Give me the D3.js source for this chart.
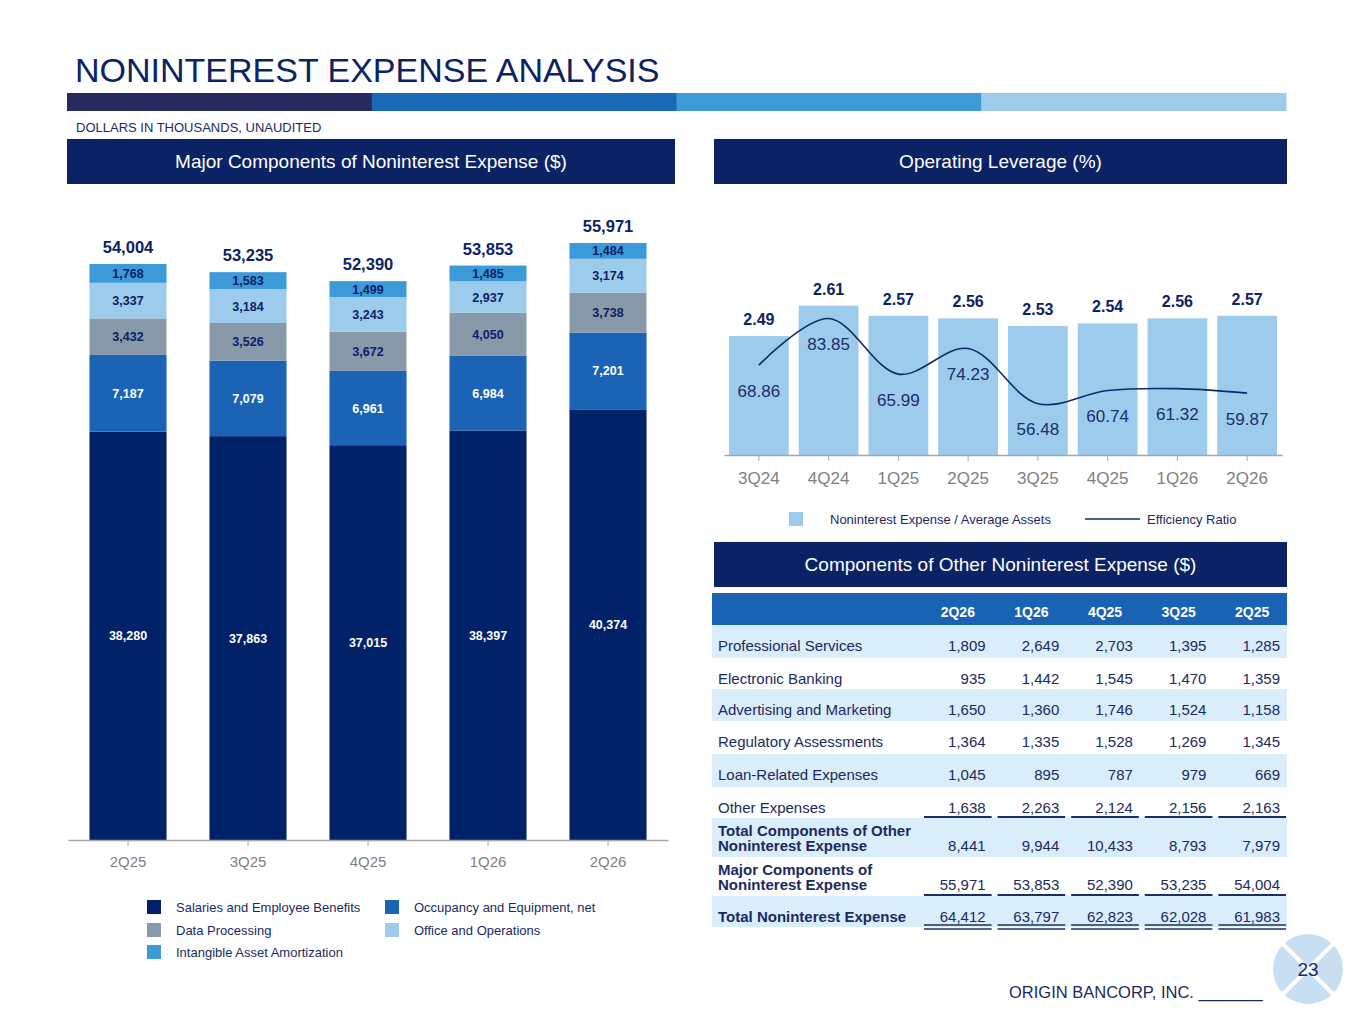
<!DOCTYPE html>
<html>
<head>
<meta charset="utf-8">
<script src="https://cdn.jsdelivr.net/npm/d3@7"></script>
<style>
    body { margin: 0; background: #fff; }
    svg { display: block; font-family: "Liberation Sans", Arial, Helvetica, sans-serif; }
</style>
</head>
<body>
<svg id="slide" width="1365" height="1024"></svg>
<script>
// ---- Major components (left stacked bars) ----
const quartersMajor = ["2Q25", "3Q25", "4Q25", "1Q26", "2Q26"];
const salaries     = [38280, 37863, 37015, 38397, 40374];
const occupancy    = [7187, 7079, 6961, 6984, 7201];
const dataProc     = [3432, 3526, 3672, 4050, 3738];
const officeOps    = [3337, 3184, 3243, 2937, 3174];
const amortization = [1768, 1583, 1499, 1485, 1484];
const majorNames = ["Salaries and Employee Benefits", "Occupancy and Equipment, net",
                    "Data Processing", "Office and Operations", "Intangible Asset Amortization"];

// ---- Operating leverage (right combo chart) ----
const quartersLev = ["3Q24", "4Q24", "1Q25", "2Q25", "3Q25", "4Q25", "1Q26", "2Q26"];
const expToAssets = [2.49, 2.61, 2.57, 2.56, 2.53, 2.54, 2.56, 2.57];
const efficiency  = [68.86, 83.85, 65.99, 74.23, 56.48, 60.74, 61.32, 59.87];

// ---- Other noninterest expense table ----
const tableCols    = ["2Q26", "1Q26", "4Q25", "3Q25", "2Q25"];
const professional = [1809, 2649, 2703, 1395, 1285];
const electronic   = [935, 1442, 1545, 1470, 1359];
const advertising  = [1650, 1360, 1746, 1524, 1158];
const regulatory   = [1364, 1335, 1528, 1269, 1345];
const loanRelated  = [1045, 895, 787, 979, 669];
const otherExp     = [1638, 2263, 2124, 2156, 2163];
const totalOther   = [8441, 9944, 10433, 8793, 7979];
const majorComp    = [55971, 53853, 52390, 53235, 54004];
const totalNonint  = [64412, 63797, 62823, 62028, 61983];

const NAVY = "#0b2265";
const TEXT = "#1b2a5e";
const GREY = "#7f7f7f";
const fmt = d3.format(",");

const svg = d3.select("#slide");

// ---------- slide header ----------
svg.append("text")
    .attr("x", 75).attr("y", 82)
    .attr("font-size", 34).attr("fill", NAVY)
    .text("NONINTEREST EXPENSE ANALYSIS");

const stripe = ["#262a5e", "#1a69b4", "#3f9bd8", "#9ccbeb"];
const stripeX = d3.scaleBand().domain(d3.range(4)).range([67, 1286]);
svg.selectAll(".stripe").data(stripe).join("rect")
    .attr("class", "stripe")
    .attr("x", (d, i) => stripeX(i)).attr("y", 93)
    .attr("width", stripeX.bandwidth() + 0.5).attr("height", 18)
    .attr("fill", d => d);

svg.append("text")
    .attr("x", 76).attr("y", 132)
    .attr("font-size", 13).attr("fill", TEXT)
    .text("DOLLARS IN THOUSANDS, UNAUDITED");

function sectionHeader(x, y, w, label) {
    svg.append("rect").attr("x", x).attr("y", y).attr("width", w).attr("height", 45).attr("fill", NAVY);
    svg.append("text")
        .attr("x", x + w / 2).attr("y", y + 29)
        .attr("text-anchor", "middle").attr("font-size", 19).attr("fill", "#fff")
        .text(label);
}
sectionHeader(67, 139, 608, "Major Components of Noninterest Expense ($)");
sectionHeader(714, 139, 573, "Operating Leverage (%)");
sectionHeader(714, 542, 573, "Components of Other Noninterest Expense ($)");

// ---------- left: stacked bars ----------
const majorColors = ["#012169", "#1a63b5", "#8899a9", "#9ccbec", "#3d9ad9"];
const majorLabelColors = ["#fff", "#fff", NAVY, NAVY, NAVY];
const keys = ["salaries", "occupancy", "dataProc", "officeOps", "amortization"];
const majorRows = quartersMajor.map((q, i) => ({
    q,
    salaries: salaries[i],
    occupancy: occupancy[i],
    dataProc: dataProc[i],
    officeOps: officeOps[i],
    amortization: amortization[i]
}));

const xL = d3.scaleBand().domain(quartersMajor).range([68, 668]).paddingInner(0.358).paddingOuter(0.179);
const yL = d3.scaleLinear().domain([0, 60000]).range([840, 200]);
const stacked = d3.stack().keys(keys)(majorRows);

const left = svg.append("g");
const layers = left.selectAll(".layer").data(stacked).join("g")
    .attr("class", "layer")
    .attr("fill", (d, i) => majorColors[i]);

layers.selectAll("rect").data(d => d).join("rect")
    .attr("x", d => xL(d.data.q))
    .attr("y", d => yL(d[1]))
    .attr("width", xL.bandwidth())
    .attr("height", d => yL(d[0]) - yL(d[1]));

layers.selectAll("text").data((d, i) => d.map(s => ({ s, i }))).join("text")
    .attr("x", d => xL(d.s.data.q) + xL.bandwidth() / 2)
    .attr("y", d => (yL(d.s[0]) + yL(d.s[1])) / 2)
    .attr("dy", "0.36em")
    .attr("text-anchor", "middle")
    .attr("font-size", 12.5).attr("font-weight", "bold")
    .attr("fill", d => majorLabelColors[d.i])
    .text(d => fmt(d.s[1] - d.s[0]));

left.selectAll(".total").data(majorRows).join("text")
    .attr("class", "total")
    .attr("x", d => xL(d.q) + xL.bandwidth() / 2)
    .attr("y", d => yL(d3.sum(keys, k => d[k])) - 11)
    .attr("text-anchor", "middle")
    .attr("font-size", 16.5).attr("font-weight", "bold").attr("fill", NAVY)
    .text(d => fmt(d3.sum(keys, k => d[k])));

const axL = left.append("g")
    .attr("transform", "translate(0,840)")
    .call(d3.axisBottom(xL).tickSize(6).tickSizeOuter(0).tickPadding(10));
axL.select(".domain").attr("stroke", "#a6a6a6").attr("stroke-width", 1.5);
axL.selectAll(".tick line").attr("stroke", "#a6a6a6");
axL.selectAll(".tick text").attr("font-size", 15).attr("fill", GREY)
    .attr("font-family", "'Liberation Sans', Arial, sans-serif");

// legend (left)
const legL = left.append("g");
const legPos = [[147, 907], [385, 907], [147, 930], [385, 930], [147, 952]];
majorNames.forEach((name, i) => {
    legL.append("rect")
        .attr("x", legPos[i][0]).attr("y", legPos[i][1] - 7)
        .attr("width", 14).attr("height", 14)
        .attr("fill", majorColors[i]);
    legL.append("text")
        .attr("x", legPos[i][0] + 29).attr("y", legPos[i][1] + 4.5)
        .attr("font-size", 13).attr("fill", TEXT)
        .text(name);
});

// ---------- right: operating leverage ----------
const right = svg.append("g");
const xR = d3.scaleBand().domain(quartersLev).range([724, 1282]).paddingInner(0.143).paddingOuter(0.0715);
const yR = d3.scaleLinear().domain([2.02, 3.0]).range([455, 207]);
const yR2 = d3.scaleLinear().domain([40, 120]).range([455, 206]);
const levRows = quartersLev.map((q, i) => ({ q, a: expToAssets[i], e: efficiency[i] }));

right.selectAll(".lbar").data(levRows).join("rect")
    .attr("class", "lbar")
    .attr("x", d => xR(d.q)).attr("y", d => yR(d.a))
    .attr("width", xR.bandwidth()).attr("height", d => yR(yR.domain()[0]) - yR(d.a))
    .attr("fill", "#9ccbec");

right.selectAll(".alab").data(levRows).join("text")
    .attr("class", "alab")
    .attr("x", d => xR(d.q) + xR.bandwidth() / 2).attr("y", d => yR(d.a) - 11)
    .attr("text-anchor", "middle")
    .attr("font-size", 16).attr("font-weight", "bold").attr("fill", NAVY)
    .text(d => d.a.toFixed(2));

const effLine = d3.line()
    .x(d => xR(d.q) + xR.bandwidth() / 2)
    .y(d => yR2(d.e))
    .curve(d3.curveCatmullRom.alpha(0.5));
right.append("path").datum(levRows)
    .attr("d", effLine)
    .attr("fill", "none").attr("stroke", "#0f2a66").attr("stroke-width", 1.6);

right.selectAll(".elab").data(levRows).join("text")
    .attr("class", "elab")
    .attr("x", d => xR(d.q) + xR.bandwidth() / 2).attr("y", d => yR2(d.e) + 25.5)
    .attr("dy", "0.36em")
    .attr("text-anchor", "middle")
    .attr("font-size", 17).attr("fill", "#1a2f6b")
    .text(d => d.e.toFixed(2));

const axR = right.append("g")
    .attr("transform", "translate(0,455)")
    .call(d3.axisBottom(xR).tickSize(6).tickSizeOuter(0).tickPadding(11));
axR.select(".domain").attr("stroke", "#a6a6a6").attr("stroke-width", 1.5);
axR.selectAll(".tick line").attr("stroke", "#a6a6a6");
axR.selectAll(".tick text").attr("font-size", 17).attr("fill", GREY)
    .attr("font-family", "'Liberation Sans', Arial, sans-serif");

// legend (right)
right.append("rect").attr("x", 789).attr("y", 512).attr("width", 14).attr("height", 14).attr("fill", "#9ccbec");
right.append("text").attr("x", 830).attr("y", 523.5).attr("font-size", 13).attr("fill", TEXT)
    .text("Noninterest Expense / Average Assets");
right.append("line").attr("x1", 1085).attr("x2", 1140).attr("y1", 519).attr("y2", 519)
    .attr("stroke", "#0f2a66").attr("stroke-width", 1.6);
right.append("text").attr("x", 1147).attr("y", 523.5).attr("font-size", 13).attr("fill", TEXT)
    .text("Efficiency Ratio");

// ---------- table ----------
const tbl = svg.append("g");
const xT = d3.scaleBand().domain(tableCols).range([921, 1289]).paddingInner(0.08).paddingOuter(0.04);
const BAND = "#d9edfb";

tbl.append("rect").attr("x", 712).attr("y", 593).attr("width", 575).attr("height", 32).attr("fill", "#1a62b3");
tbl.selectAll(".colh").data(tableCols).join("text")
    .attr("class", "colh")
    .attr("x", d => xT(d) + xT.bandwidth() / 2).attr("y", 617)
    .attr("text-anchor", "middle")
    .attr("font-size", 14).attr("font-weight", "bold").attr("fill", "#fff")
    .text(d => d);

const tableRows = [
    { lines: ["Professional Services"], vals: professional, top: 625, h: 33, band: true },
    { lines: ["Electronic Banking"], vals: electronic, top: 658, h: 31 },
    { lines: ["Advertising and Marketing"], vals: advertising, top: 689, h: 32, band: true },
    { lines: ["Regulatory Assessments"], vals: regulatory, top: 721, h: 33 },
    { lines: ["Loan-Related Expenses"], vals: loanRelated, top: 754, h: 33, band: true },
    { lines: ["Other Expenses"], vals: otherExp, top: 787, h: 31, under: 1 },
    { lines: ["Total Components of Other", "Noninterest Expense"], vals: totalOther, top: 818, h: 39, band: true, bold: true },
    { lines: ["Major Components of", "Noninterest Expense"], vals: majorComp, top: 857, h: 39, bold: true, under: 1 },
    { lines: ["Total Noninterest Expense"], vals: totalNonint, top: 896, h: 31, band: true, bold: true, under: 2 }
];

tableRows.forEach(r => {
    if (r.band) {
        tbl.append("rect").attr("x", 712).attr("y", r.top).attr("width", 575).attr("height", r.h).attr("fill", BAND);
    }
    const baseline = r.lines.length === 2 ? r.top + 33 : r.top + 26;
    r.lines.forEach((ln, k) => {
        tbl.append("text")
            .attr("x", 718).attr("y", r.lines.length === 2 ? r.top + 18 + 15 * k : baseline)
            .attr("font-size", 15).attr("font-weight", r.bold ? "bold" : "normal").attr("fill", TEXT)
            .text(ln);
    });
    tbl.selectAll(null).data(r.vals).join("text")
        .attr("x", (d, i) => xT(tableCols[i]) + xT.bandwidth() - 6)
        .attr("y", baseline)
        .attr("text-anchor", "end")
        .attr("font-size", 15).attr("fill", TEXT)
        .text(d => fmt(d));
    if (r.under) {
        const yy = r.top + r.h - 1;
        const offs = r.under === 2 ? [-1, 3] : [0];
        offs.forEach(o => {
            tbl.selectAll(null).data(tableCols).join("line")
                .attr("x1", d => xT(d)).attr("x2", d => xT(d) + xT.bandwidth())
                .attr("y1", yy + o).attr("y2", yy + o)
                .attr("stroke", "#1b2f66").attr("stroke-width", r.under === 2 ? 1.6 : 2.2);
        });
    }
});

// ---------- footer ----------
svg.append("text")
    .attr("x", 1009).attr("y", 998)
    .attr("font-size", 16.5).attr("fill", TEXT)
    .text("ORIGIN BANCORP, INC. _______");

const logo = svg.append("g").attr("transform", "translate(1308,969)");
logo.append("circle").attr("r", 35).attr("fill", "#c8dff2");
[[-1, -1, 1, 1], [-1, 1, 1, -1]].forEach(c => {
    logo.append("line")
        .attr("x1", c[0] * 26).attr("y1", c[1] * 26).attr("x2", c[2] * 26).attr("y2", c[3] * 26)
        .attr("stroke", "#fff").attr("stroke-width", 4);
});
logo.append("text")
    .attr("y", 7).attr("text-anchor", "middle")
    .attr("font-size", 19).attr("fill", TEXT)
    .text("23");
</script>
</body>
</html>
